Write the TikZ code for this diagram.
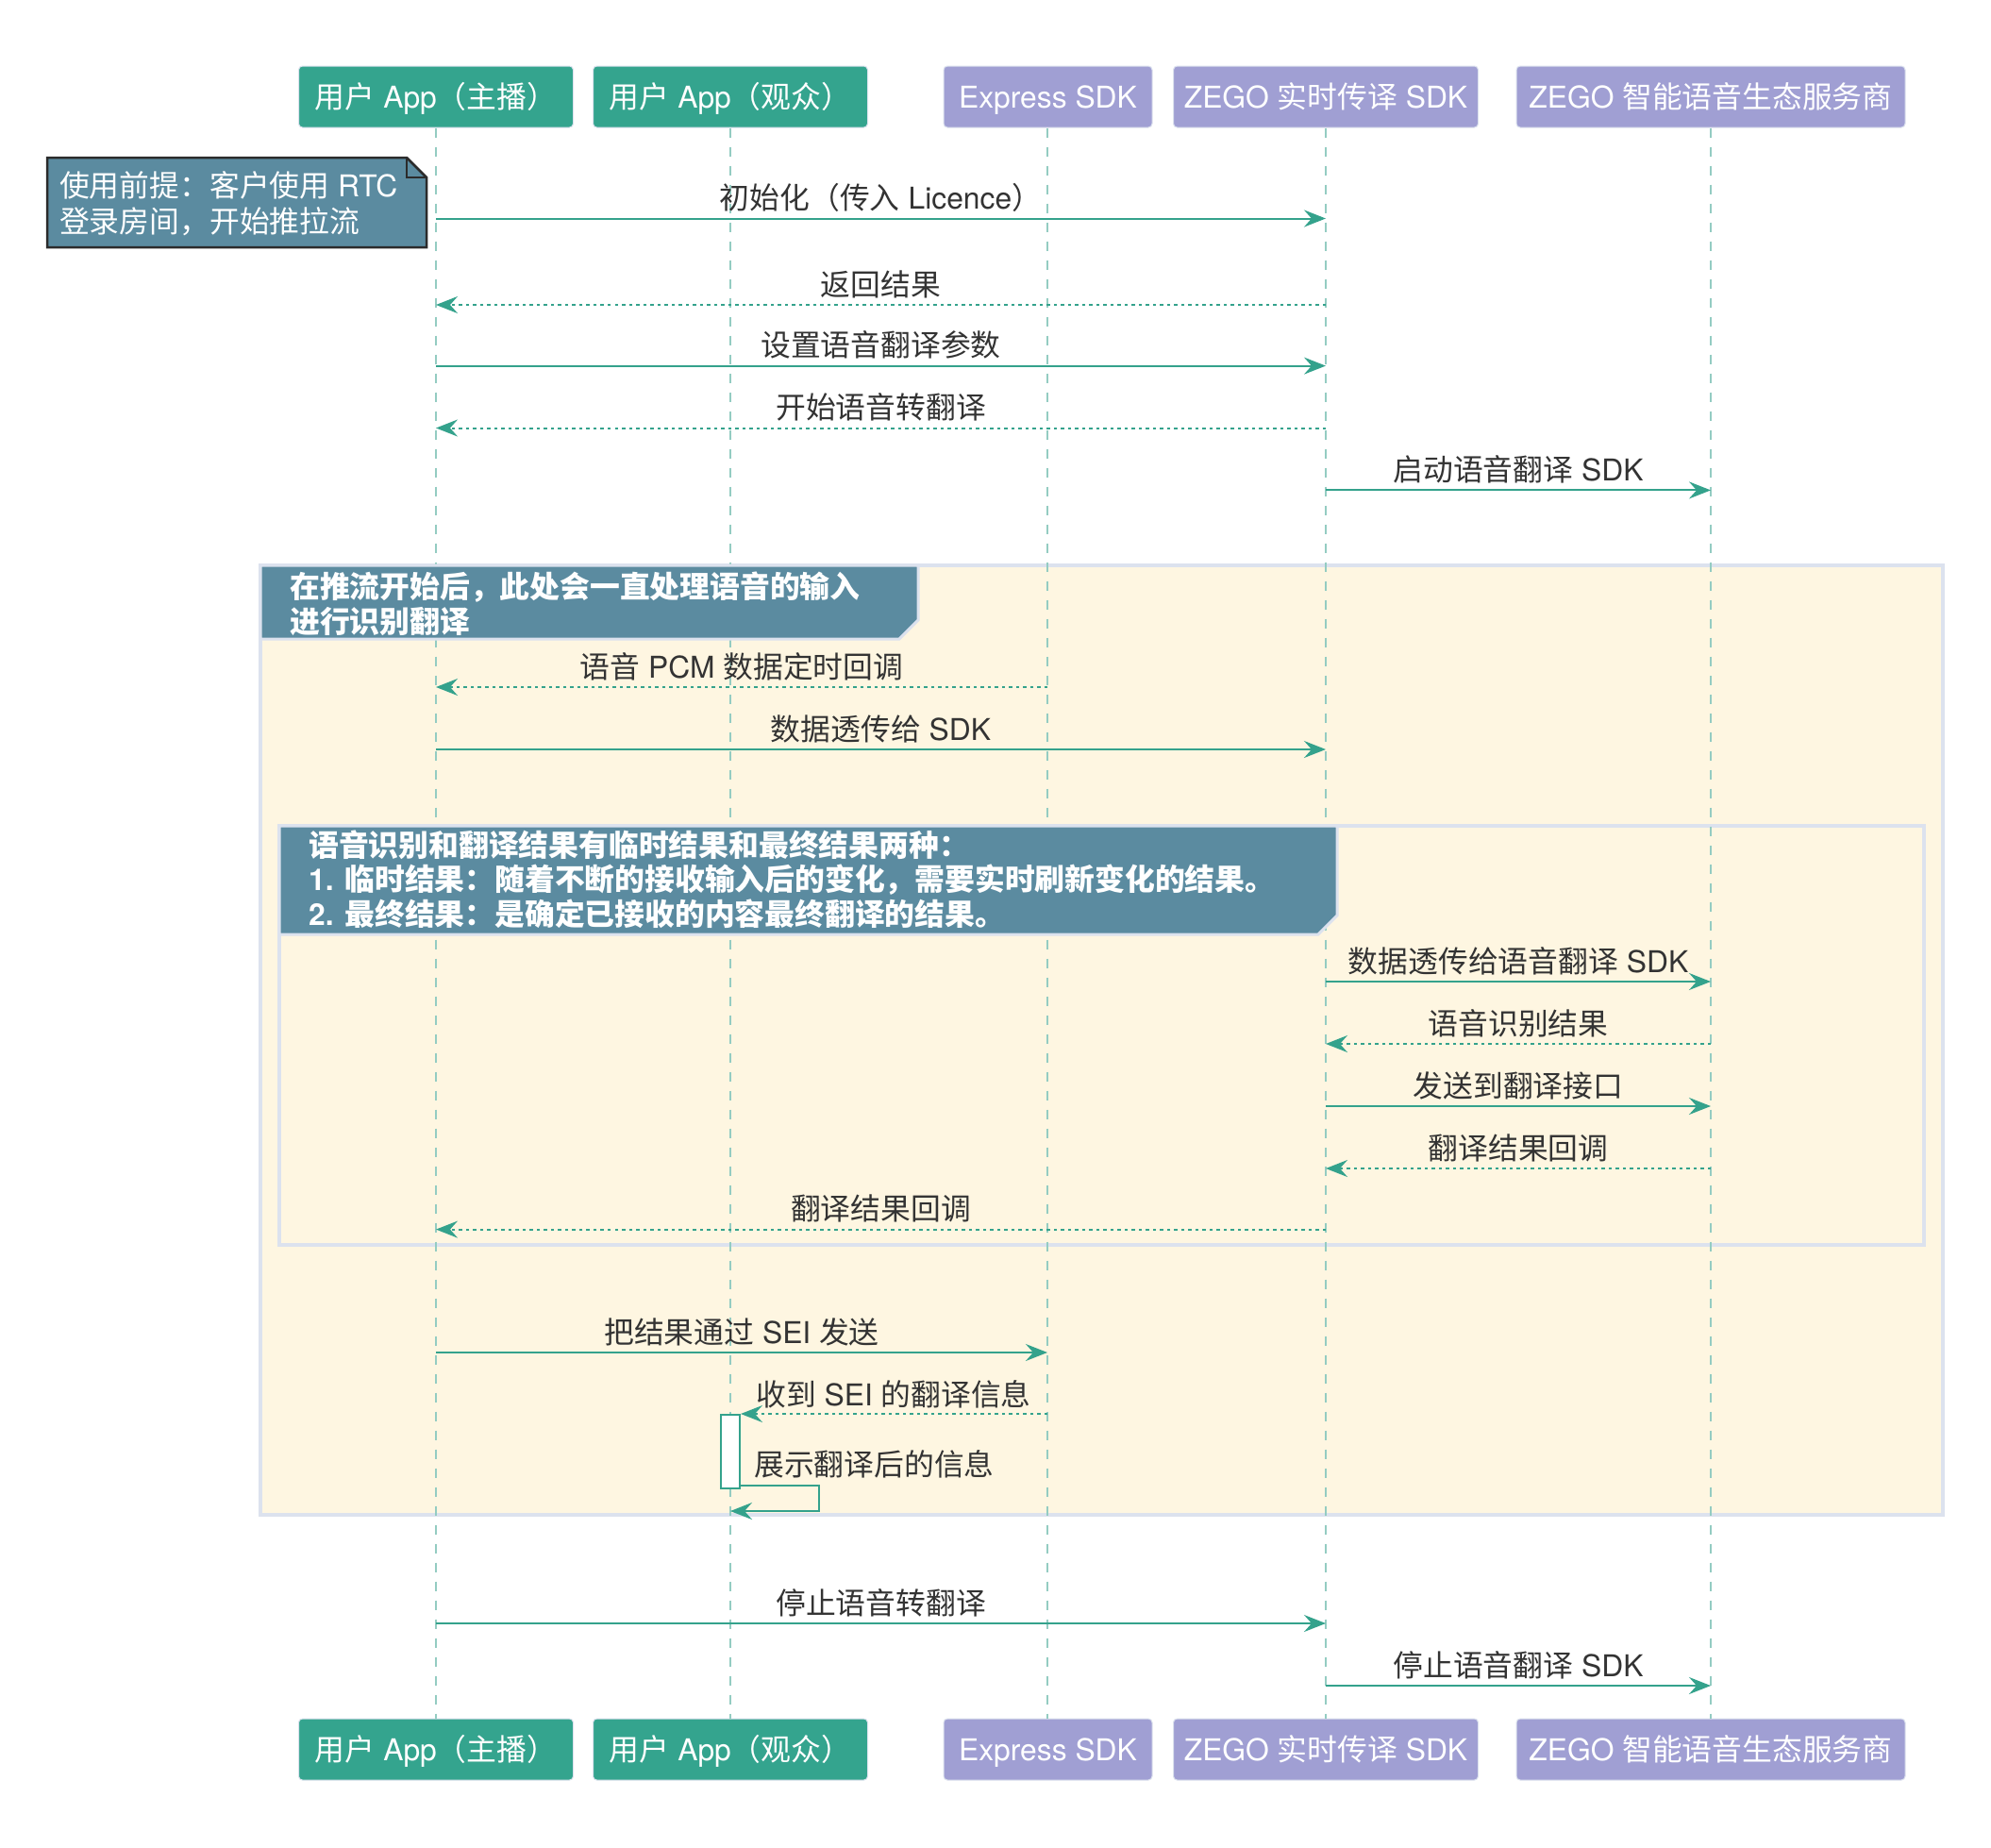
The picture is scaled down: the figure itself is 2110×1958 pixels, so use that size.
\documentclass[tikz,border=0pt]{standalone}
\usepackage{fontspec}
\setmainfont{Noto Sans CJK SC}
\newfontfamily\latfont{TeX Gyre Heros}
\newcommand\LatinRun[1]{{\latfont #1}}
\usetikzlibrary{arrows.meta}
\definecolor{pgreen}{HTML}{34A48E}
\definecolor{ppurple}{HTML}{A09FD3}
\definecolor{nfill}{HTML}{5B8BA0}
\definecolor{cream}{HTML}{FEF6E1}
\definecolor{fborder}{HTML}{DCE2EE}
\definecolor{arrowc}{HTML}{34A28C}
\definecolor{lifec}{HTML}{94CCC2}
\definecolor{txt}{HTML}{333333}
\definecolor{notebd}{HTML}{2B2B2B}
\tikzset{
  txtfont/.style={font=\fontsize{31.8bp}{37bp}\selectfont},
  pbox/.style={rounded corners=4bp, draw=fborder, line width=1bp, minimum height=65bp,
    inner sep=0pt, text=white, txtfont, text height=23bp, text depth=0bp},
  actor/.style={pbox, fill=pgreen},
  sysbox/.style={pbox, fill=ppurple},
  lifeline/.style={draw=lifec, line width=2bp, dash pattern=on 10bp off 10bp},
  msg/.style={draw=arrowc, line width=2bp, -{Stealth[length=23bp,width=18bp,inset=8bp]}},
  reply/.style={msg, dash pattern=on 3.5bp off 4bp},
  lbl/.style={anchor=base, inner sep=0pt, text=txt, txtfont},
  notetxt/.style={anchor=base west, inner sep=0pt, text=white, txtfont},
  headtxt/.style={anchor=base west, inner sep=0pt, text=white, font=\fontsize{31.8bp}{37bp}\selectfont\bfseries},
  frame/.style={fill=cream, draw=fborder, line width=3.5bp},
  headtab/.style={fill=nfill, draw=fborder, line width=3bp},
  notebox/.style={fill=nfill, draw=notebd, line width=2.5bp},
  activ/.style={draw=arrowc, fill=white, line width=2bp, minimum width=20bp, minimum height=78bp, inner sep=0pt},
}
\begin{document}
\begin{tikzpicture}[x=1bp, y=-1bp]
\fill[white] (0,0) rectangle (2110,1958);
\useasboundingbox (0,0) rectangle (2110,1958);

% frames
\draw[frame] (276,599) rectangle (2059,1605);
\draw[frame] (296,875) rectangle (2039,1319);

% participants
\node[actor, minimum width=291bp] (a1) at (462,102.5) {用户\LatinRun{ App}（主播）};
\node[actor, minimum width=291bp] (a2) at (774,102.5) {用户\LatinRun{ App}（观众）};
\node[sysbox, minimum width=221bp] (a3) at (1110.5,102.5) {\LatinRun{Express SDK}};
\node[sysbox, minimum width=323bp] (a4) at (1405,102.5) {\LatinRun{ZEGO }实时传译\LatinRun{ SDK}};
\node[sysbox, minimum width=412bp] (a5) at (1813,102.5) {\LatinRun{ZEGO }智能语音生态服务商};
\node[actor, minimum width=291bp] (b1) at (462,1853.5) {用户\LatinRun{ App}（主播）};
\node[actor, minimum width=291bp] (b2) at (774,1853.5) {用户\LatinRun{ App}（观众）};
\node[sysbox, minimum width=221bp] (b3) at (1110.5,1853.5) {\LatinRun{Express SDK}};
\node[sysbox, minimum width=323bp] (b4) at (1405,1853.5) {\LatinRun{ZEGO }实时传译\LatinRun{ SDK}};
\node[sysbox, minimum width=412bp] (b5) at (1813,1853.5) {\LatinRun{ZEGO }智能语音生态服务商};

% lifelines
\draw[lifeline] (a1.south) -- (b1.north);
\draw[lifeline] (a2.south) -- (b2.north);
\draw[lifeline] ([xshift=-0.5bp]a3.south) -- ([xshift=-0.5bp]b3.north);
\draw[lifeline] (a4.south) -- (b4.north);
\draw[lifeline] (a5.south) -- (b5.north);

% group headers
\draw[headtab] (276,599) -- (973,599) -- (973,657) -- (953,677) -- (276,677) -- cycle;
\node[headtxt] (h1) at (307,633.5) {在推流开始后，此处会一直处理语音的输入};
\node[headtxt] (h2) at (307,670) {进行识别翻译};
\draw[headtab] (296,875) -- (1417,875) -- (1417,970) -- (1397,990) -- (296,990) -- cycle;
\node[headtxt] (g1) at (327,907) {语音识别和翻译结果有临时结果和最终结果两种：};
\node[headtxt] (g2) at (327,943.5) {\LatinRun{1. }临时结果：随着不断的接收输入后的变化，需要实时刷新变化的结果。};
\node[headtxt] (g3) at (327,980) {\LatinRun{2. }最终结果：是确定已接收的内容最终翻译的结果。};

% note
\draw[notebox] (50,167) -- (431,167) -- (452,188) -- (452,262) -- (50,262) -- cycle;
\draw[draw=notebd, line width=2.5bp] (431,167) -- (431,188) -- (452,188);
\node[notetxt] (n1) at (63,208) {使用前提：客户使用\LatinRun{ RTC}};
\node[notetxt] (n2) at (63,246.5) {登录房间，开始推拉流};

% message rows
\coordinate (r1) at (0,231.5);
\coordinate (r2) at (0,323);
\coordinate (r3) at (0,387.6);
\coordinate (r4) at (0,453.5);
\coordinate (r5) at (0,519.4);
\coordinate (r6) at (0,728);
\coordinate (r7) at (0,794);
\coordinate (r8) at (0,1040);
\coordinate (r9) at (0,1106);
\coordinate (r10) at (0,1172);
\coordinate (r11) at (0,1238);
\coordinate (r12) at (0,1302.6);
\coordinate (r13) at (0,1433);
\coordinate (r15a) at (0,1574);
\coordinate (r15b) at (0,1601);
\coordinate (r16) at (0,1720);
\coordinate (r17) at (0,1786);

\draw[msg] (a1 |- r1) -- (a4 |- r1);
\node[lbl] (t1) at (933.5,221.5) {初始化（传入\LatinRun{ Licence}）};
\draw[reply] (a4 |- r2) -- (a1 |- r2);
\node[lbl] (t2) at (933.5,313) {返回结果};
\draw[msg] (a1 |- r3) -- (a4 |- r3);
\node[lbl] (t3) at (933.5,377.6) {设置语音翻译参数};
\draw[reply] (a4 |- r4) -- (a1 |- r4);
\node[lbl] (t4) at (933.5,443.5) {开始语音转翻译};
\draw[msg] (a4 |- r5) -- (a5 |- r5);
\node[lbl] (t5) at (1609,509.4) {启动语音翻译\LatinRun{ SDK}};

\draw[reply] ([xshift=-0.5bp]a3.south |- r6) -- (a1 |- r6);
\node[lbl] (t6) at (786,718) {语音\LatinRun{ PCM }数据定时回调};
\draw[msg] (a1 |- r7) -- (a4 |- r7);
\node[lbl] (t7) at (933.5,784) {数据透传给\LatinRun{ SDK}};

\draw[msg] (a4 |- r8) -- (a5 |- r8);
\node[lbl] (t8) at (1609,1030) {数据透传给语音翻译\LatinRun{ SDK}};
\draw[reply] (a5 |- r9) -- (a4 |- r9);
\node[lbl] (t9) at (1609,1096) {语音识别结果};
\draw[msg] (a4 |- r10) -- (a5 |- r10);
\node[lbl] (t10) at (1609,1162) {发送到翻译接口};
\draw[reply] (a5 |- r11) -- (a4 |- r11);
\node[lbl] (t11) at (1609,1228) {翻译结果回调};
\draw[reply] (a4 |- r12) -- (a1 |- r12);
\node[lbl] (t12) at (933.5,1292.6) {翻译结果回调};

\draw[msg] (a1 |- r13) -- ([xshift=-0.5bp]a3.south |- r13);
\node[lbl] (t13) at (786,1423) {把结果通过\LatinRun{ SEI }发送};

\node[activ] (act) at (774,1538) {};
\draw[reply] ([xshift=-0.5bp]a3.south |- act.north) -- (act.north east);
\node[lbl] (t14) at (947,1489) {收到\LatinRun{ SEI }的翻译信息};
\draw[msg] (act.east |- r15a) -- (868,1574) |- (a2 |- r15b);
\node[lbl, anchor=base west] (t15) at (799,1563) {展示翻译后的信息};

\draw[msg] (a1 |- r16) -- (a4 |- r16);
\node[lbl] (t16) at (933.5,1710) {停止语音转翻译};
\draw[msg] (a4 |- r17) -- (a5 |- r17);
\node[lbl] (t17) at (1609,1776) {停止语音翻译\LatinRun{ SDK}};
\end{tikzpicture}
\end{document}
